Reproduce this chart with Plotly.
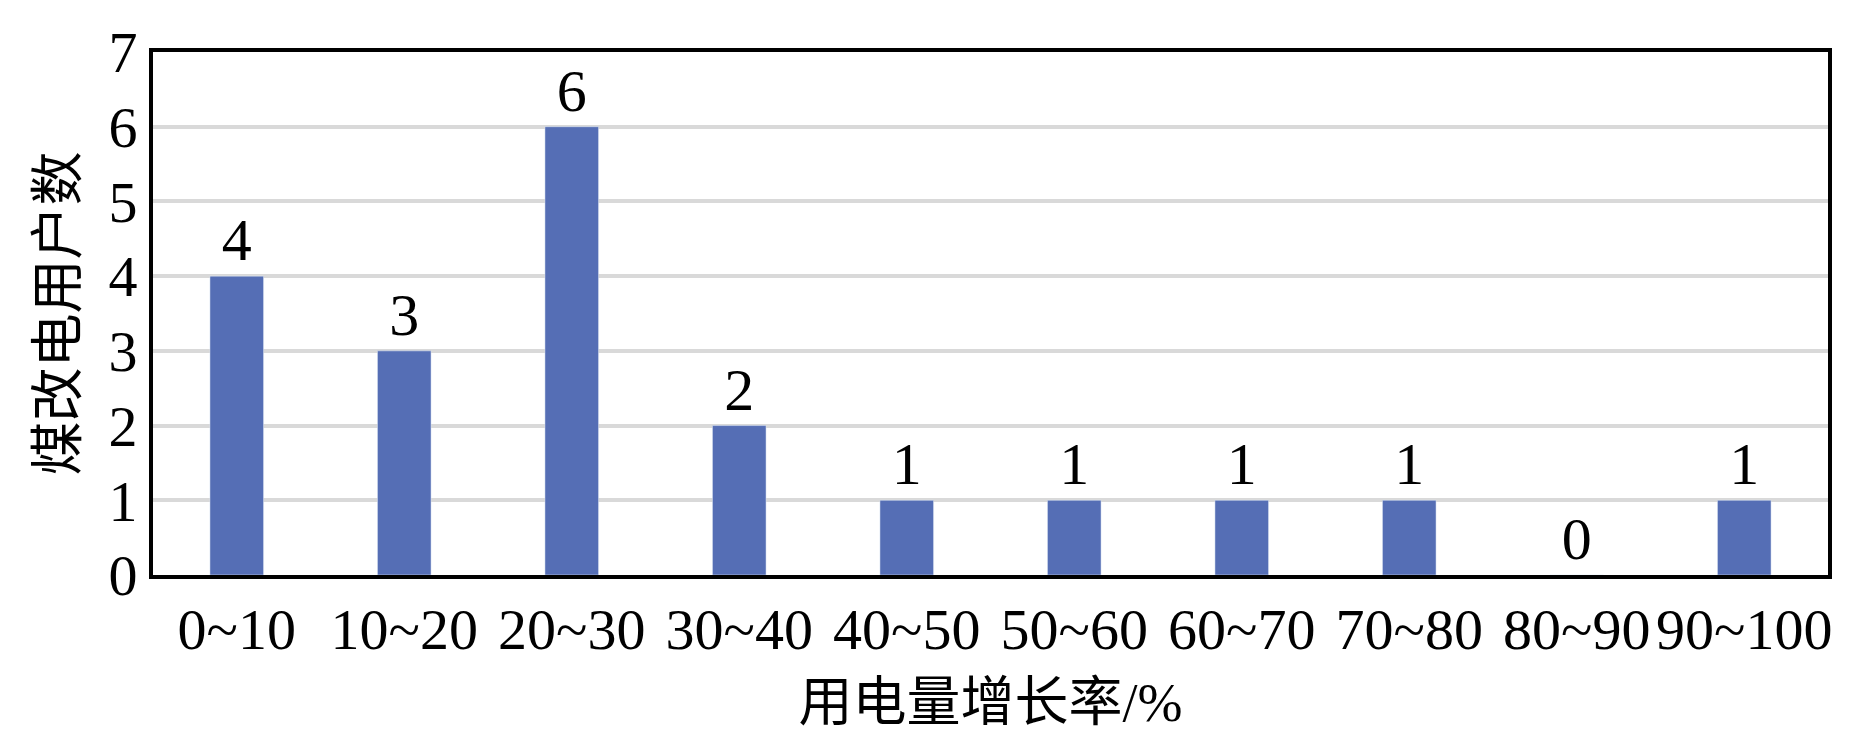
import plotly.graph_objects as go

categories = ["0~10","10~20","20~30","30~40","40~50","50~60","60~70","70~80","80~90","90~100"]
values = [4,3,6,2,1,1,1,1,0,1]
y_ticks = [0,1,2,3,4,5,6,7]

font = "Liberation Serif, Times New Roman, serif"
cjk = "Liberation Serif, Noto Sans CJK SC, serif"

fig = go.Figure(go.Bar(
    x=categories, y=values, marker_color="#556EB5", width=0.32,
    text=[str(v) for v in values], textposition="outside", cliponaxis=False,
    textfont=dict(family=font, size=60, color="black"),
))
fig.update_layout(
    width=1866, height=748, plot_bgcolor="white", paper_bgcolor="white",
    margin=dict(l=145, r=46, t=36, b=181), showlegend=False,
    font=dict(family=font, color="black"),
)
fig.update_xaxes(
    showline=True, linecolor="black", linewidth=4, mirror=True,
    tickfont=dict(family=font, size=58), ticks="",
    title=dict(text="用电量增长率/%", font=dict(family=cjk, size=54), standoff=24),
)
fig.update_yaxes(
    range=[0,7], tickvals=y_ticks, showline=True, linecolor="black", linewidth=4, mirror=True,
    showgrid=True, gridcolor="#d9d9d9", gridwidth=4, zeroline=False,
    tickfont=dict(family=font, size=58), ticks="",
    title=dict(text="煤改电用户数", font=dict(family=cjk, size=54), standoff=15),
)
fig.write_html("out.html")
